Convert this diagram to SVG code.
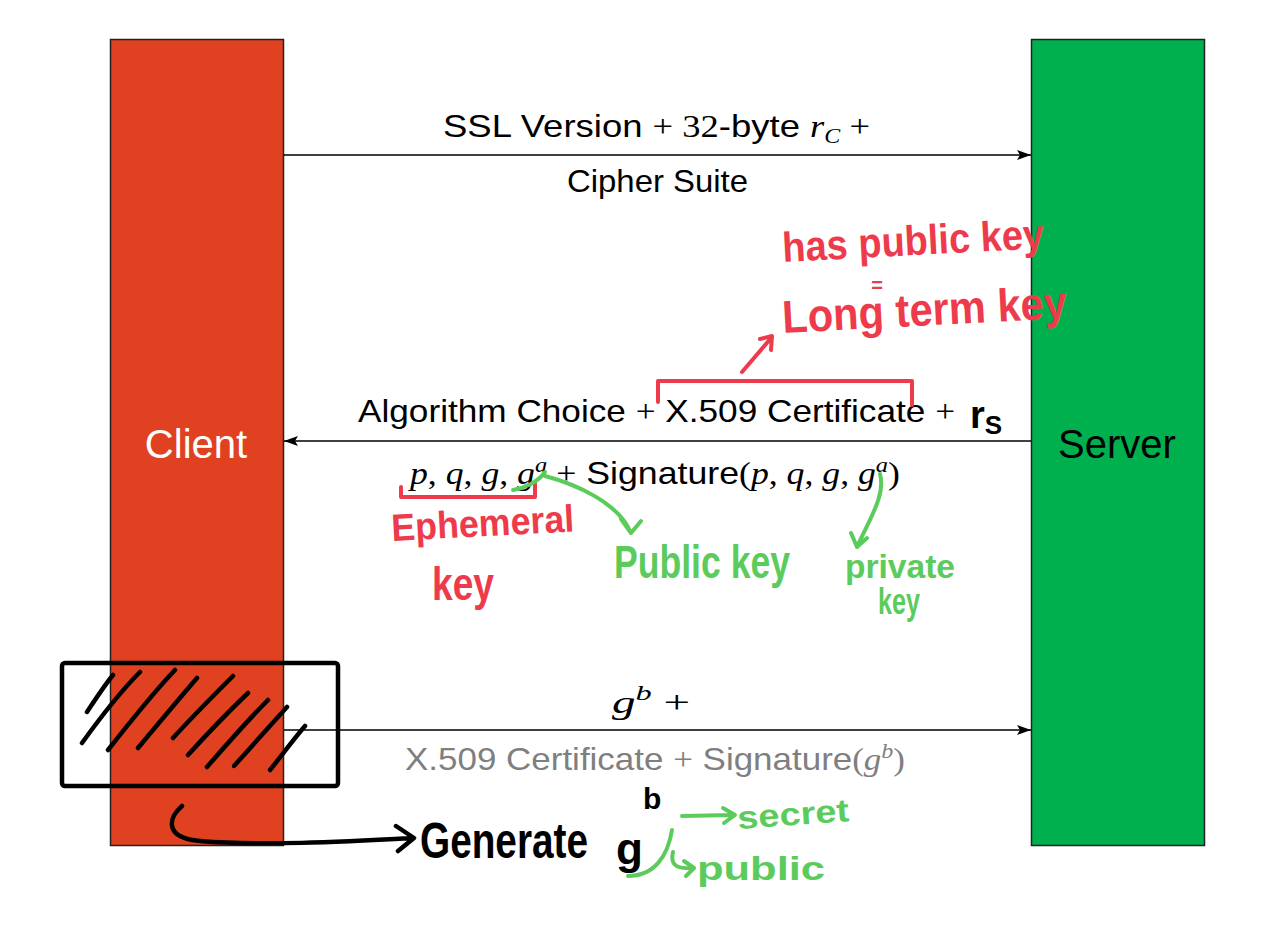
<svg xmlns="http://www.w3.org/2000/svg" width="1261" height="952" viewBox="0 0 1261 952">
<defs>
<marker id="ah" markerWidth="14" markerHeight="10" refX="14" refY="5" orient="auto" markerUnits="userSpaceOnUse">
<path d="M0,0 L14,5 L0,10 L3,5 Z" fill="#000"/>
</marker>
<style>
.lbl{font-family:"Liberation Sans","Noto Sans",sans-serif;font-size:32px;fill:#000}
.m{font-family:"Liberation Serif","DejaVu Serif",serif;font-style:italic}
.r{font-family:"Liberation Serif","DejaVu Serif",serif}
.gray{fill:#7f7f7f}
.hw{font-family:"Liberation Sans","DejaVu Sans",sans-serif;font-weight:bold}
.red{fill:#EE3B4B}
.grn{fill:#5BCB5B}
.sred{fill:none;stroke:#EE3B4B;stroke-width:4;stroke-linecap:round;stroke-linejoin:round}
.sgrn{fill:none;stroke:#5BCB5B;stroke-width:4;stroke-linecap:round;stroke-linejoin:round}
.sblk{fill:none;stroke:#000;stroke-width:4.5;stroke-linecap:round;stroke-linejoin:round}
.conn{stroke:#000;stroke-width:1.5;fill:none}
</style>
</defs>
<rect width="1261" height="952" fill="#fff"/>

<g id="client">
<rect x="110.5" y="39.5" width="173" height="806" fill="#DF4121" stroke="#222" stroke-width="1.5"/>
<text x="196" y="458" text-anchor="middle" font-family="Liberation Sans,sans-serif" font-size="40" fill="#fff">Client</text>
</g>
<g id="server">
<rect x="1031.5" y="39.5" width="173" height="806" fill="#00B04F" stroke="#222" stroke-width="1.5"/>
<text x="1117" y="458" text-anchor="middle" font-family="Liberation Sans,sans-serif" font-size="40" fill="#000">Server</text>
</g>

<g id="connectors">
<line class="conn" x1="284" y1="155" x2="1031" y2="155" marker-end="url(#ah)"/>
<line class="conn" x1="1031" y1="441" x2="284" y2="441" marker-end="url(#ah)"/>
<line class="conn" x1="284" y1="730" x2="1031" y2="730" marker-end="url(#ah)"/>
</g>

<g id="labels">
<text class="lbl" x="443" y="137" textLength="427" lengthAdjust="spacingAndGlyphs">SSL Version <tspan class="r">+ 32</tspan>-byte <tspan class="m">r</tspan><tspan class="m" font-size="21" dy="6">C</tspan><tspan class="r" dy="-6"> +</tspan></text>
<text class="lbl" x="567" y="192" textLength="181" lengthAdjust="spacingAndGlyphs">Cipher Suite</text>
<text class="lbl" x="358" y="422" textLength="597" lengthAdjust="spacingAndGlyphs">Algorithm Choice <tspan class="r">+</tspan> X.509 Certificate <tspan class="r">+</tspan></text>
<text class="lbl" x="410" y="484" textLength="490" lengthAdjust="spacingAndGlyphs"><tspan class="m">p</tspan><tspan class="r">, </tspan><tspan class="m">q</tspan><tspan class="r">, </tspan><tspan class="m">g</tspan><tspan class="r">, </tspan><tspan class="m">g</tspan><tspan class="m" font-size="22" dy="-12">a</tspan><tspan class="r" dy="12"> +</tspan> Signature<tspan class="r">(</tspan><tspan class="m">p</tspan><tspan class="r">, </tspan><tspan class="m">q</tspan><tspan class="r">, </tspan><tspan class="m">g</tspan><tspan class="r">, </tspan><tspan class="m">g</tspan><tspan class="m" font-size="22" dy="-12">a</tspan><tspan class="r" dy="12">)</tspan></text>
<text class="lbl" x="612" y="713" textLength="78" lengthAdjust="spacingAndGlyphs"><tspan class="m">g</tspan><tspan class="m" font-size="22" dy="-13">b</tspan><tspan class="r" dy="13"> +</tspan></text>
<text class="lbl gray" x="405" y="770" textLength="500" lengthAdjust="spacingAndGlyphs">X.509 Certificate <tspan class="r">+</tspan> Signature<tspan class="r">(</tspan><tspan class="m">g</tspan><tspan class="m" font-size="22" dy="-12">b</tspan><tspan class="r" dy="12">)</tspan></text>
</g>

<g id="annotations">
<!-- r_S handwritten -->
<text class="hw" x="970" y="428" font-size="38" fill="#000">r<tspan font-size="26" dy="6">S</tspan></text>

<!-- red bracket over certificate and arrow -->
<path class="sred" d="M658,402 L658,381 L912,381 L912,405"/>
<path class="sred" d="M742,372 L772,337 M760,339 L772,336 L771,350"/>
<text class="hw red" x="783" y="262" font-size="42" textLength="262" lengthAdjust="spacingAndGlyphs" transform="rotate(-3 783 262)">has public key</text>
<text class="hw red" x="877" y="292" font-size="20" text-anchor="middle">=</text>
<text class="hw red" x="783" y="333" font-size="46" textLength="285" lengthAdjust="spacingAndGlyphs" transform="rotate(-3 783 333)">Long term key</text>

<!-- red bracket under p,q,g,g^a -->
<path class="sred" d="M401,487 L401,497 L535,497 L535,483"/>
<text class="hw red" x="392" y="541" font-size="38" textLength="183" lengthAdjust="spacingAndGlyphs" transform="rotate(-3 392 541)">Ephemeral</text>
<text class="hw red" x="432" y="600" font-size="46" textLength="62" lengthAdjust="spacingAndGlyphs">key</text>

<!-- green: public / private key -->
<path class="sgrn" d="M513,490 C525,488 538,482 545,472"/>
<path class="sgrn" d="M545,476 C575,484 617,502 630,531 M621,519 L631,533 L641,521"/>
<path class="sgrn" d="M880,474 C886,495 869,520 857,547 M851,533 L857,547 L867,538"/>
<text class="hw grn" x="614" y="578" font-size="46" textLength="176" lengthAdjust="spacingAndGlyphs">Public key</text>
<text class="hw grn" x="845" y="578" font-size="34" textLength="110" lengthAdjust="spacingAndGlyphs">private</text>
<text class="hw grn" x="878" y="614" font-size="36" textLength="42" lengthAdjust="spacingAndGlyphs">key</text>

<!-- hatched box -->
<rect x="62" y="663" width="276" height="123" rx="3" fill="none" stroke="#000" stroke-width="4.5"/>
<path class="sblk" d="M87,712 C95,700 104,686 113,675 M82,743 C100,718 120,692 140,672 M108,750 C130,722 152,694 175,670 M138,748 C158,724 178,700 197,678 M173,738 C193,716 213,696 233,676 M188,755 C208,733 228,712 248,693 M207,767 C227,744 247,721 268,700 M234,766 C252,746 270,726 287,707 M270,770 C282,755 293,740 305,726"/>

<!-- black curved arrow -->
<path class="sblk" d="M182,806 C168,818 164,838 200,841 C260,846 340,842 412,838 M396,826 L414,838 L398,851"/>
<text class="hw" x="0" y="0" font-size="40" textLength="168" lengthAdjust="spacingAndGlyphs" fill="#000" transform="translate(420,858) scale(1,1.25)">Generate</text>
<text class="hw" x="616" y="864" font-size="44" fill="#000">g</text>
<text class="hw" x="643" y="809" font-size="30" fill="#000">b</text>

<!-- green secret / public -->
<path class="sgrn" d="M682,816 L733,815 M723,808 L735,815 L724,823"/>
<text class="hw grn" x="738" y="829" font-size="32" textLength="112" lengthAdjust="spacingAndGlyphs" transform="rotate(-4 738 829)">secret</text>
<path class="sgrn" d="M672,830 C668,855 655,876 628,876"/>
<path class="sgrn" d="M673,852 C670,864 676,869 690,868 M684,861 L694,868 L686,876"/>
<text class="hw grn" x="697" y="880" font-size="34" textLength="128" lengthAdjust="spacingAndGlyphs">public</text>
</g>
</svg>
